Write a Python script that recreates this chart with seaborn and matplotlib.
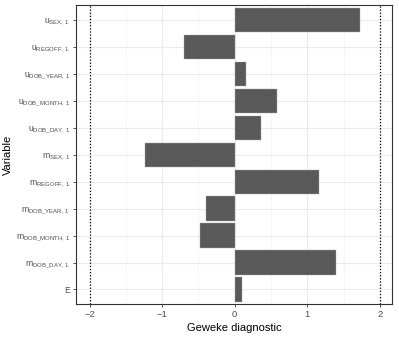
import matplotlib
matplotlib.use('Agg')
import matplotlib.pyplot as plt
import seaborn as sns
import pandas as pd

# =====================================
# DATA
# =====================================

variables = [
    'u_SEX', 'u_REGOFF', 'u_DOB_YEAR', 'u_DOB_MONTH', 'u_DOB_DAY',
    'm_SEX', 'm_REGOFF', 'm_DOB_YEAR', 'm_DOB_MONTH', 'm_DOB_DAY', 'E'
]
geweke = [1.73, -0.70, 0.16, 0.585, 0.36, -1.23, 1.16, -0.39, -0.48, 1.40, 0.10]
x_ticks = [-2, -1, 0, 1, 2]


def to_label(name):
    if name == 'E':
        return 'E'
    base, sub = name.split('_', 1)
    sub = sub.replace('_', r'\_')
    return r'$%s_{%s,\,1}$' % (base, sub)


df = pd.DataFrame({'Variable': variables, 'Geweke': geweke})

# =====================================
# PLOT
# =====================================

sns.set_style('whitegrid')
plt.rcParams['font.family'] = ['Liberation Sans', 'DejaVu Sans']
plt.rcParams['mathtext.default'] = 'regular'

fig, ax = plt.subplots(figsize=(3.99, 3.37), dpi=100)
fig.subplots_adjust(left=0.19, right=0.983, top=0.985, bottom=0.097)

# minor grid at half steps
for v in [-1.5, -0.5, 0.5, 1.5]:
    ax.axvline(v, color='#f2f2f2', lw=0.5, zorder=0)

sns.barplot(
    data=df,
    x='Geweke',
    y='Variable',
    orient='h',
    color='#595959',
    saturation=1,
    width=0.9,
    edgecolor='#aaaaaa',
    linewidth=0.3,
    ax=ax,
    zorder=2
)

for v in [-2, 2]:
    ax.axvline(v, color='black', ls=(0, (1, 1.5)), lw=0.9, zorder=3)

ax.set_xlim(-2.19, 2.17)
ax.set_ylim(len(variables) - 0.45, -0.55)
ax.set_xticks(x_ticks)
ax.set_xticklabels(['\u22122', '\u22121', '0', '1', '2'])
ax.set_yticks(range(len(variables)))
ax.set_yticklabels([to_label(v) for v in variables])

ax.grid(True, color='#ebebeb', lw=0.8, zorder=0)
ax.set_axisbelow(True)
for s in ax.spines.values():
    s.set_color('#333333')
    s.set_linewidth(0.8)

ax.tick_params(axis='both', bottom=True, left=True, colors='#333333',
               labelcolor='#4d4d4d', length=2.5, width=0.6,
               pad=1.5, direction='out')
ax.tick_params(axis='x', labelsize=6.8)
ax.tick_params(axis='y', labelsize=6.2)

ax.set_xlabel('Geweke diagnostic', fontsize=8, color='black', labelpad=3)
ax.set_ylabel('Variable', fontsize=8, color='black')
ax.yaxis.set_label_coords(-0.198, 0.5)

plt.savefig('out.png', dpi=100)
